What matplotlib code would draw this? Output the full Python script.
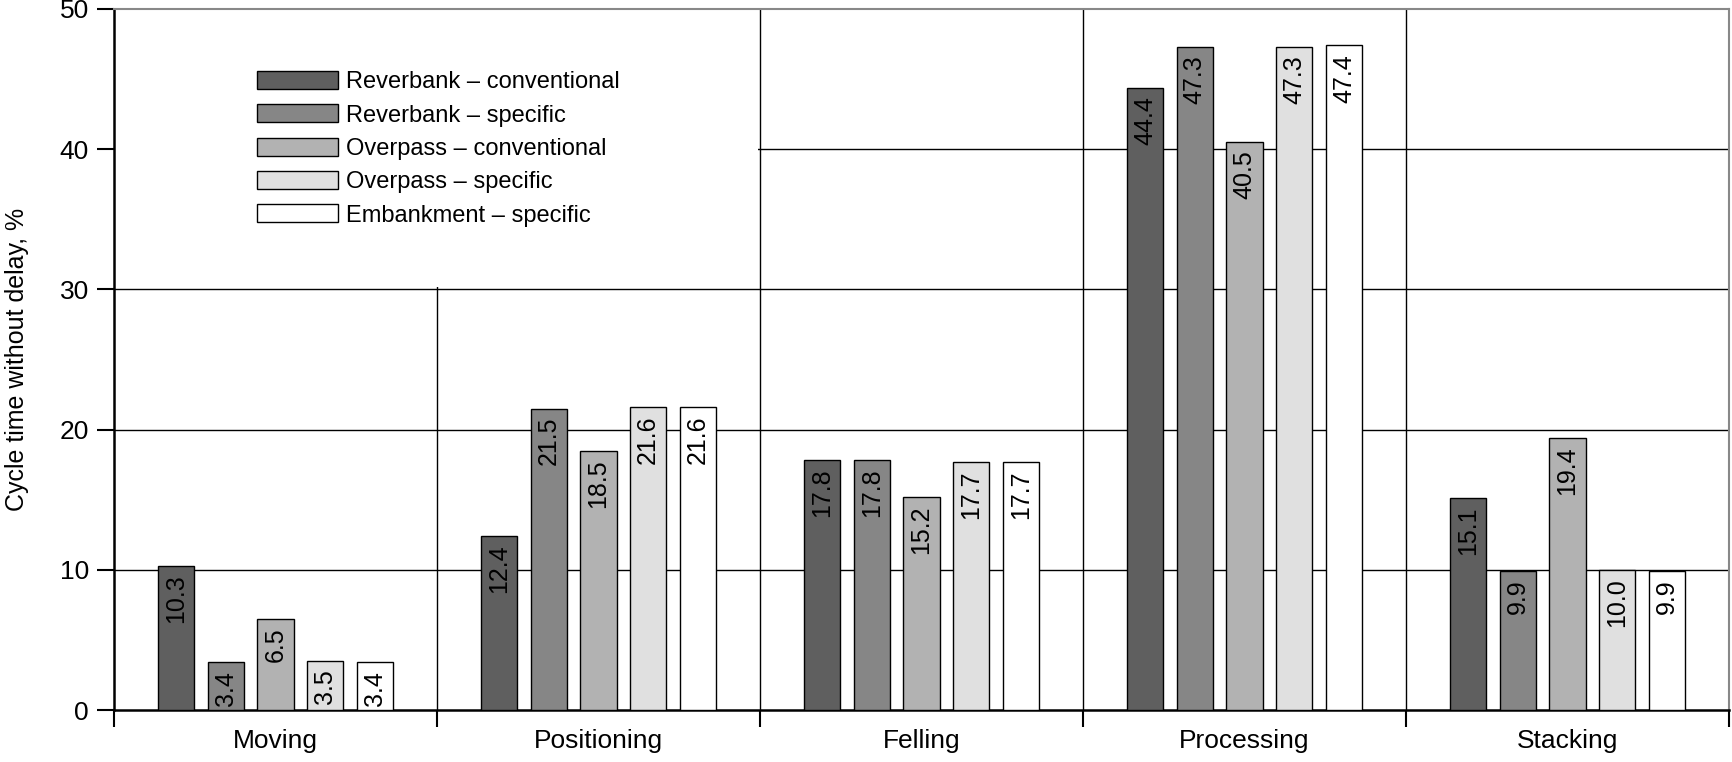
import matplotlib
matplotlib.use('Agg')
import matplotlib.pyplot as plt
from matplotlib.patches import Rectangle
import numpy as np

categories = ['Moving', 'Positioning', 'Felling', 'Processing', 'Stacking']
series = ['Reverbank – conventional', 'Reverbank – specific',
          'Overpass – conventional', 'Overpass – specific',
          'Embankment – specific']
reverbank_conv = [10.3, 12.4, 17.8, 44.4, 15.1]
reverbank_spec = [3.4, 21.5, 17.8, 47.3, 9.9]
overpass_conv = [6.5, 18.5, 15.2, 40.5, 19.4]
overpass_spec = [3.5, 21.6, 17.7, 47.3, 10.0]
embankment_spec = [3.4, 21.6, 17.7, 47.4, 9.9]
values = [reverbank_conv, reverbank_spec, overpass_conv, overpass_spec, embankment_spec]
colors = ['#5f5f5f', '#868686', '#b2b2b2', '#e0e0e0', '#ffffff']

font = 'Liberation Sans'

fig = plt.figure(figsize=(17.32, 7.62), dpi=100)
ax = fig.add_axes([114/1732, 1-710/762, (1729-114)/1732, (710-9)/762])

x = np.arange(len(categories))
pitch = 0.154
width = 0.112
for i, (vals, col) in enumerate(zip(values, colors)):
    pos = x + (i - 2) * pitch
    ax.bar(pos, vals, width, color=col, edgecolor='black', linewidth=1,
           label=series[i], zorder=3)
    for px, v in zip(pos, vals):
        ax.annotate(f'{v:.1f}', (px, v), xytext=(0, -6), textcoords='offset points',
                    rotation=90, ha='center', va='top', fontsize=18,
                    family=font, zorder=4)

# grid
for yv in [10, 20, 30, 40]:
    ax.axhline(yv, color='black', lw=1, zorder=1)
for xv in x[:-1] + 0.5:
    ax.axvline(xv, color='black', lw=1, zorder=1)
# white area behind the legend hides part of the grid
ax.add_patch(Rectangle((-0.5, 30.15), 1.995, 19.85, facecolor='white',
                       edgecolor='none', zorder=2))

ax.set_xlim(-0.5, 4.5)
ax.set_ylim(0, 50)
ax.set_yticks([0, 10, 20, 30, 40, 50])
ax.set_xticks(np.arange(-0.5, 5, 1))
ax.set_xticklabels([])
ax.set_xticks(x, minor=True)
ax.set_xticklabels(categories, minor=True, fontsize=19, family=font)
ax.tick_params(axis='x', which='major', length=12, width=1.5, direction='out')
ax.tick_params(axis='x', which='minor', length=0, pad=14)
ax.tick_params(axis='y', length=12, width=1.5, direction='out', pad=6)
for lab in ax.get_yticklabels():
    lab.set_fontsize(19)
    lab.set_family(font)

for s in ['left', 'bottom']:
    ax.spines[s].set_linewidth(1.8)
    ax.spines[s].set_color('black')
for s in ['top', 'right']:
    ax.spines[s].set_linewidth(1.5)
    ax.spines[s].set_color('#888888')

ax.set_ylabel('Cycle time without delay, %', fontsize=18, family=font, labelpad=22)

leg = ax.legend(loc='upper left', bbox_to_anchor=(257/1732, 1-71/762),
                bbox_transform=fig.transFigure, frameon=False, borderpad=0,
                borderaxespad=0, handlelength=3.43, handleheight=0.8,
                handletextpad=0.35, labelspacing=0.47,
                prop={'family': font, 'size': 17})
leg.set_zorder(5)

fig.savefig('out.png', dpi=100)
